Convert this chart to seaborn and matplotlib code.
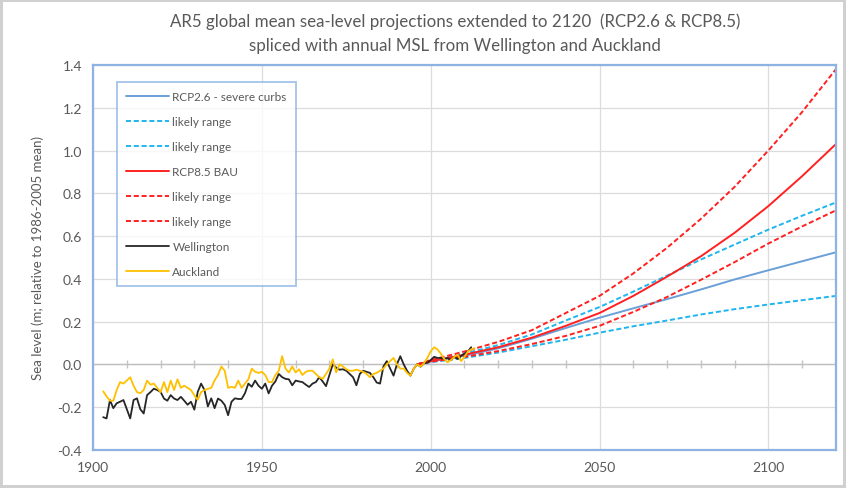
import numpy as np
import pandas as pd
import seaborn as sns
import matplotlib.pyplot as plt

# projection years and values (m, relative to 1986-2005 mean)
proj_years = [1996, 2000, 2010, 2020, 2030, 2040, 2050, 2060, 2070, 2080, 2090, 2100, 2110, 2120]
rcp26_mid = [0.0, 0.013, 0.04, 0.075, 0.12, 0.17, 0.218, 0.262, 0.305, 0.35, 0.397, 0.44, 0.482, 0.524]
rcp26_hi = [0.0, 0.015, 0.05, 0.09, 0.14, 0.205, 0.268, 0.34, 0.415, 0.49, 0.56, 0.63, 0.695, 0.757]
rcp26_lo = [0.0, 0.01, 0.03, 0.055, 0.085, 0.115, 0.148, 0.178, 0.205, 0.233, 0.258, 0.28, 0.30, 0.32]
rcp85_mid = [0.0, 0.015, 0.045, 0.08, 0.125, 0.18, 0.24, 0.32, 0.41, 0.505, 0.615, 0.74, 0.88, 1.03]
rcp85_hi = [0.0, 0.02, 0.06, 0.105, 0.16, 0.24, 0.32, 0.425, 0.545, 0.68, 0.83, 1.0, 1.18, 1.38]
rcp85_lo = [0.0, 0.012, 0.035, 0.062, 0.095, 0.133, 0.18, 0.245, 0.315, 0.395, 0.478, 0.565, 0.645, 0.72]

# annual MSL, Wellington 1903-2012
wel_years = list(range(1903, 2013))
wellington = [
    -0.247, -0.253, -0.167, -0.205, -0.182, -0.175, -0.167, -0.21, -0.253, -0.167,
    -0.159, -0.21, -0.23, -0.144, -0.13, -0.114, -0.12, -0.129, -0.16, -0.17,
    -0.144, -0.16, -0.167, -0.152, -0.17, -0.189, -0.175, -0.212, -0.129, -0.09,
    -0.12, -0.197, -0.159, -0.205, -0.16, -0.17, -0.19, -0.238, -0.175, -0.159,
    -0.162, -0.162, -0.135, -0.09, -0.105, -0.076, -0.1, -0.114, -0.09, -0.136,
    -0.1, -0.08, -0.045, -0.06, -0.068, -0.07, -0.098, -0.076, -0.08, -0.083,
    -0.095, -0.106, -0.09, -0.083, -0.06, -0.08, -0.102, -0.05, 0.0, -0.015,
    -0.025, -0.023, -0.03, -0.045, -0.06, -0.098, -0.045, -0.03, -0.035, -0.04,
    -0.06, -0.085, -0.09, -0.01, 0.015, -0.02, -0.053, 0.0, 0.038, 0.0,
    -0.03, -0.053, -0.02, 0.0, -0.011, 0.005, 0.008, 0.02, 0.035, 0.03,
    0.03, 0.025, 0.03, 0.02, 0.035, 0.025, 0.04, 0.05, 0.06, 0.08,
]

# annual MSL, Auckland 1903-2013
auk_years = list(range(1903, 2014))
auckland = [
    -0.126, -0.15, -0.17, -0.17, -0.12, -0.083, -0.09, -0.076, -0.06, -0.1,
    -0.13, -0.135, -0.12, -0.076, -0.095, -0.09, -0.11, -0.13, -0.083, -0.13,
    -0.076, -0.12, -0.07, -0.11, -0.1, -0.11, -0.12, -0.145, -0.166, -0.13,
    -0.12, -0.115, -0.11, -0.075, -0.05, -0.01, -0.03, -0.11, -0.105, -0.11,
    -0.076, -0.11, -0.09, -0.07, -0.02, -0.035, -0.04, -0.035, -0.05, -0.083,
    -0.083, -0.05, -0.03, 0.038, -0.02, -0.038, -0.01, -0.038, -0.023, -0.05,
    -0.035, -0.03, -0.03, -0.045, -0.06, -0.068, -0.045, -0.02, 0.023, -0.038,
    0.0, -0.01, -0.023, -0.03, -0.03, -0.025, -0.03, -0.035, -0.045, -0.06,
    -0.045, -0.04, -0.03, -0.02, 0.0, 0.015, 0.03, 0.0, -0.02, -0.02,
    -0.04, -0.053, -0.02, 0.0, -0.01, 0.005, 0.03, 0.06, 0.08, 0.07,
    0.05, 0.025, 0.01, 0.02, 0.035, 0.045, 0.015, 0.035, 0.06, 0.07,
    0.075,
]

text_grey = "#595959"
frame_blue = "#8DB3E2"

sns.set_style("white")
plt.rcParams['font.family'] = ['Lato', 'DejaVu Sans']

fig = plt.figure(figsize=(8.46, 4.89), dpi=100, facecolor='white')
fig.patch.set_edgecolor('#d0d0d0')
fig.patch.set_linewidth(3)
ax = fig.add_axes([0.110, 0.078, 0.878, 0.787])

dash = (0, (2.6, 1.4))
series = [
    (proj_years, rcp26_mid, "#6A9FD8", "-", 1.4, "RCP2.6 - severe curbs"),
    (proj_years, rcp26_hi, "#1FB5EE", dash, 1.4, "likely range"),
    (proj_years, rcp26_lo, "#1FB5EE", dash, 1.4, "likely range"),
    (proj_years, rcp85_mid, "#FF2020", "-", 1.4, "RCP8.5 BAU"),
    (proj_years, rcp85_hi, "#FF2020", dash, 1.4, "likely range"),
    (proj_years, rcp85_lo, "#FF2020", dash, 1.4, "likely range"),
    (wel_years, wellington, "#262626", "-", 1.3, "Wellington"),
    (auk_years, auckland, "#FFC000", "-", 1.3, "Auckland"),
]
for xs, ys, col, ls, lw, lab in series:
    sns.lineplot(x=xs, y=ys, ax=ax, color=col, linestyle=ls, linewidth=lw, label=lab)

ax.set_xlim(1900, 2120)
ax.set_ylim(-0.4, 1.4)
ax.set_xticks([1900, 1950, 2000, 2050, 2100])
ax.set_yticks(np.arange(-0.4, 1.41, 0.2))
ax.set_yticklabels([f"{v:.1f}" for v in np.arange(-0.4, 1.41, 0.2)])
ax.tick_params(axis='both', length=0, labelsize=10, labelcolor=text_grey, pad=8)
ax.grid(True, color="#DCDCDC", linewidth=0.9)
ax.set_axisbelow(True)
for s in ax.spines.values():
    s.set_color(frame_blue)
    s.set_linewidth(1.6)

# horizontal axis line through zero with decade ticks
ax.axhline(0, color="#BFBFBF", linewidth=1.0, zorder=1)
sec = ax.secondary_xaxis(0.4 / 1.8)
sec.set_xticks(np.arange(1910, 2120, 10))
sec.tick_params(axis='x', direction='inout', length=6, width=1, color="#C4C4C4", labelbottom=False, labeltop=False)
sec.spines['bottom'].set_visible(False)
sec.spines['top'].set_visible(False)

ax.set_ylabel("Sea level (m; relative to 1986-2005 mean)", fontsize=9.5, color=text_grey, labelpad=10)
fig.text(0.538, 0.955, "AR5 global mean sea-level projections extended to 2120  (RCP2.6 & RCP8.5)",
         ha='center', va='center', fontsize=12.2, color=text_grey)
fig.text(0.538, 0.905, "spliced with annual MSL from Wellington and Auckland",
         ha='center', va='center', fontsize=12.2, color=text_grey)

leg = ax.legend(loc='upper left', bbox_to_anchor=(0.032, 0.956), borderaxespad=0,
                fontsize=8.5, labelspacing=1.18, handlelength=3.6, handletextpad=0.3,
                borderpad=0.8, fancybox=False, frameon=True, labelcolor=text_grey)
leg.get_frame().set_edgecolor(frame_blue)
leg.get_frame().set_linewidth(1.3)

plt.savefig('out.png', dpi=100, facecolor=fig.get_facecolor(), edgecolor=fig.get_edgecolor())
